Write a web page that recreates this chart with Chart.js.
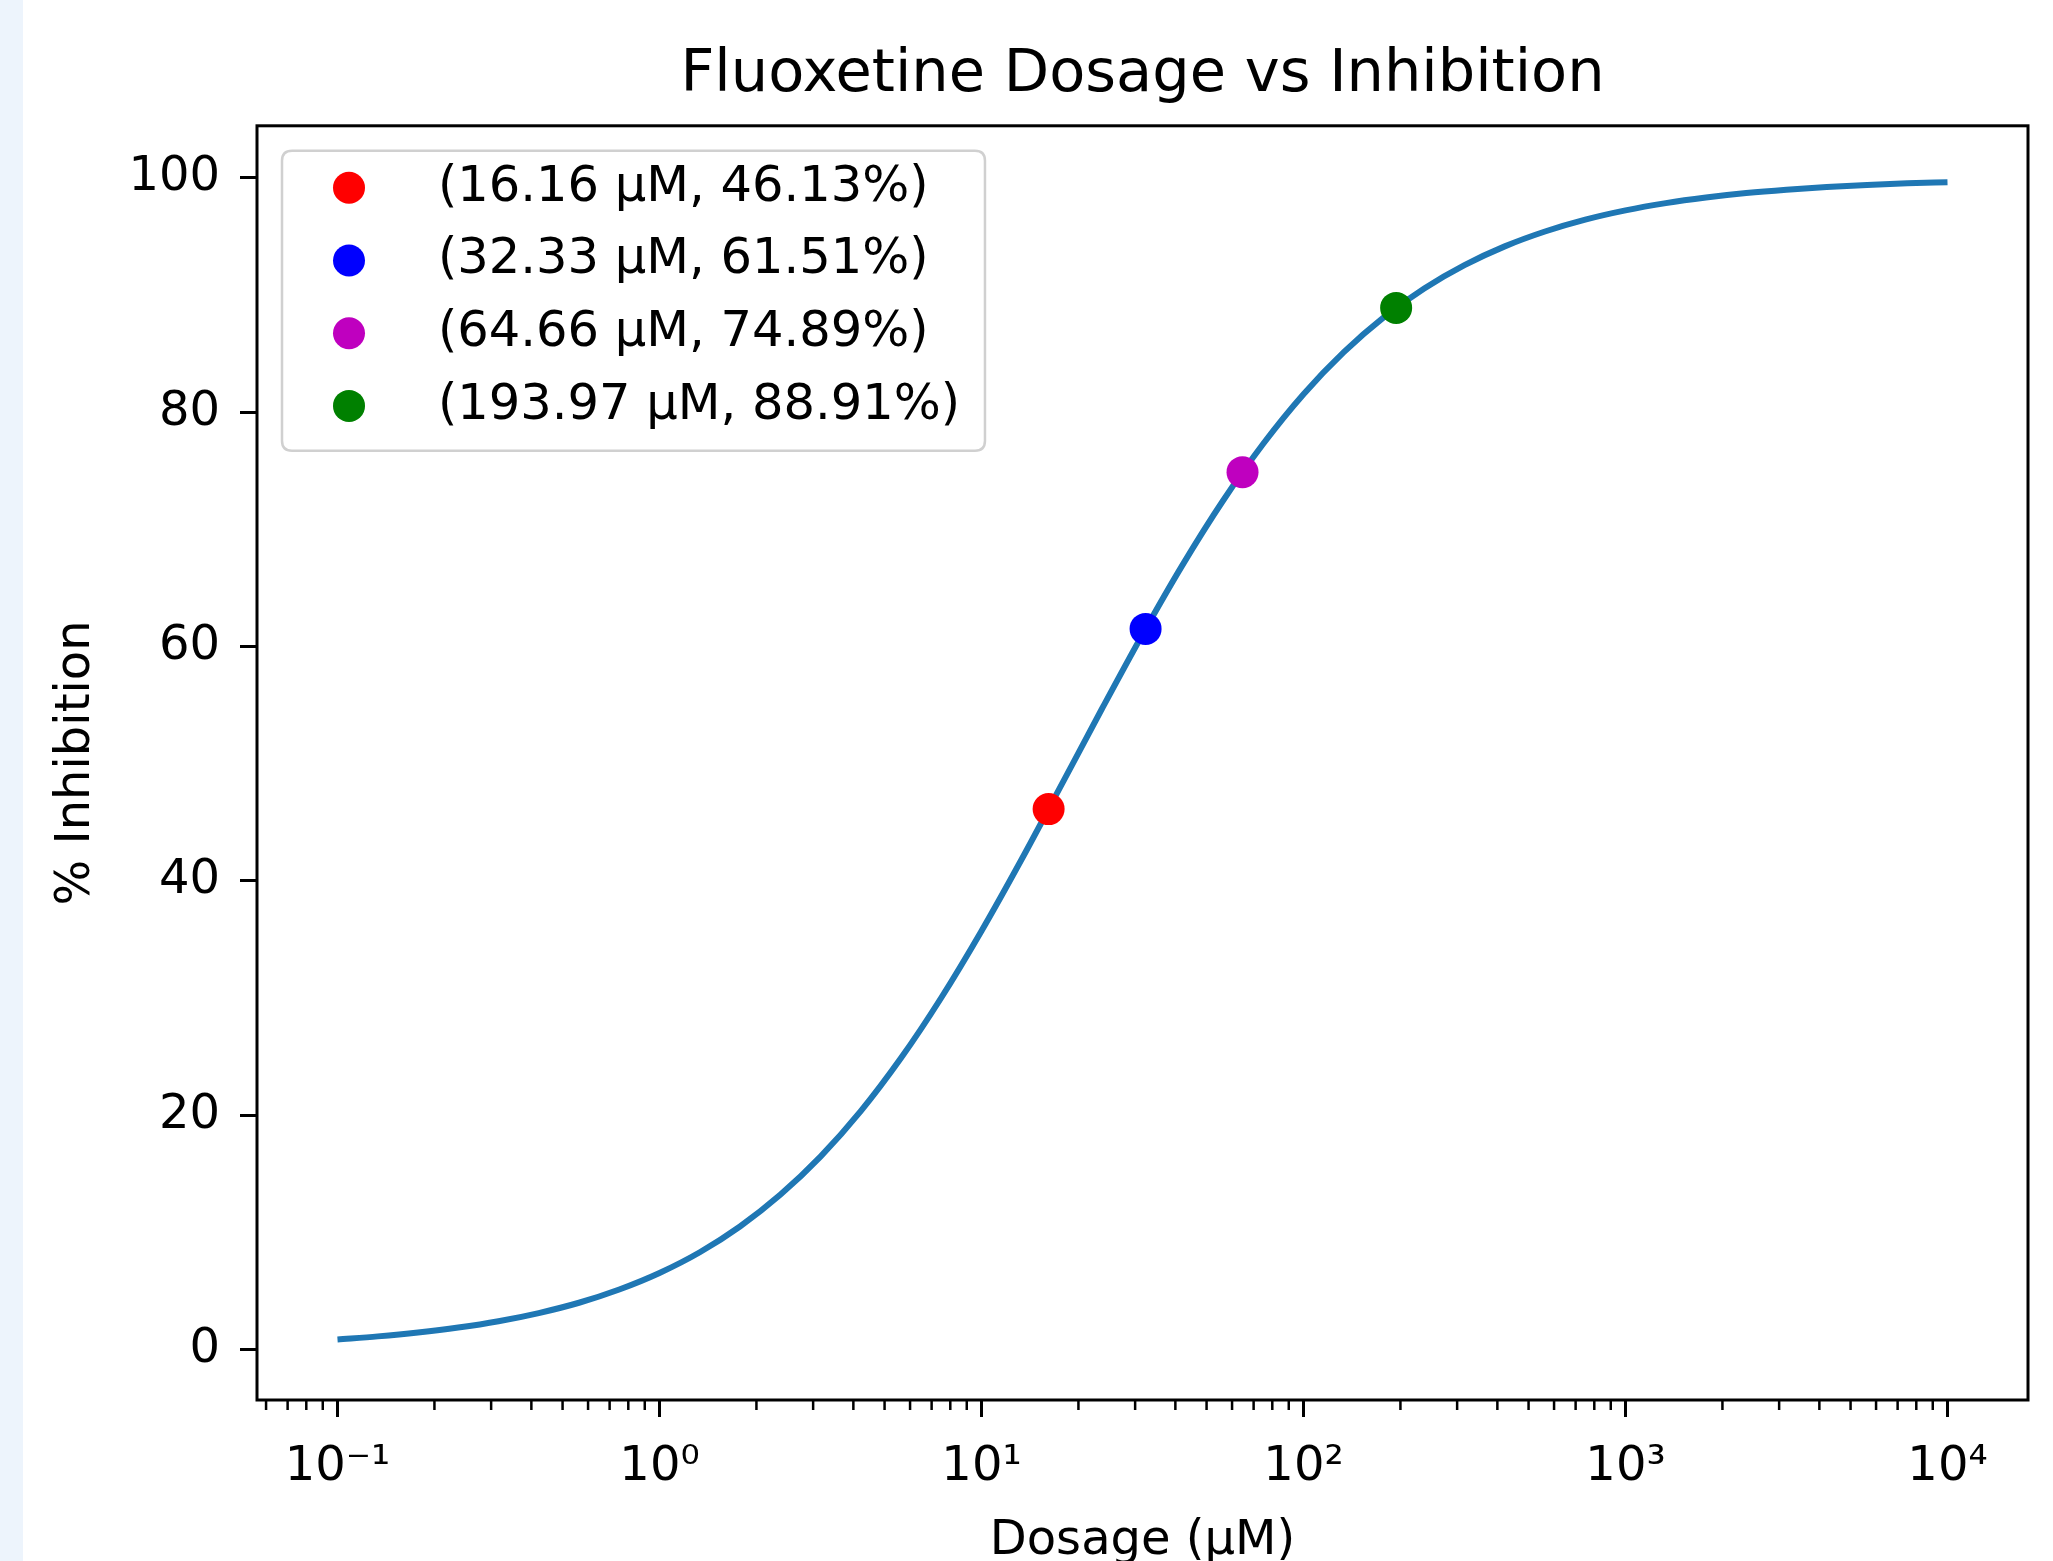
<!DOCTYPE html>
<html>
<head>
<meta charset="utf-8">
<script src="https://cdn.jsdelivr.net/npm/chart.js@4.4.1/dist/chart.umd.min.js"></script>
<style>
html,body{margin:0;padding:0;background:#fff;overflow:hidden;width:2053px;height:1561px;}
#strip{position:absolute;left:0;top:0;width:23px;height:1561px;background:#edf4fc;}
#wrap{position:absolute;left:0;top:0;width:2053px;height:1600px;}
canvas{display:block;}
</style>
</head>
<body>
<div id="strip"></div>
<div id="wrap"><canvas id="c" width="2053" height="1600" style="width:2053px;height:1600px"></canvas></div>
<script>
// ---- data ----
const curveDose = [0.1, 0.1334, 0.1778, 0.2371, 0.3162, 0.4217, 0.5623, 0.7499,
  1, 1.334, 1.778, 2.371, 3.162, 4.217, 5.623, 7.499,
  10, 13.34, 17.78, 23.71, 31.62, 42.17, 56.23, 74.99,
  100, 133.4, 177.8, 237.1, 316.2, 421.7, 562.3, 749.9,
  1000, 1334, 1778, 2371, 3162, 4217, 5623, 7499, 10000];
const curveInhibition = [0.87, 1.13, 1.46, 1.88, 2.42, 3.12, 4.0, 5.13,
  6.54, 8.31, 10.51, 13.21, 16.47, 20.35, 24.88, 30.03,
  35.73, 41.87, 48.28, 54.74, 61.04, 67.0, 72.45, 77.31,
  81.54, 85.13, 88.12, 90.57, 92.56, 94.16, 95.43, 96.44,
  97.23, 97.85, 98.33, 98.71, 99.0, 99.23, 99.4, 99.54, 99.64];
const pointDose = [16.16, 32.33, 64.66, 193.97];
const pointInhibition = [46.13, 61.51, 74.89, 88.91];
const xTickValues = [0.1, 1, 10, 100, 1000, 10000];
const xTickLabels = ['10⁻¹', '10⁰', '10¹', '10²', '10³', '10⁴'];
const yTickValues = [0, 20, 40, 60, 80, 100];
const yTickLabels = ['0', '20', '40', '60', '80', '100'];
const chartTitle = 'Fluoxetine Dosage vs Inhibition';
const xAxisTitle = 'Dosage (µM)';
const yAxisTitle = '% Inhibition';

// ---- styles ----
const pointColors = ['#ff0000', '#0000ff', '#bf00bf', '#008000'];
const lineColor = '#1f77b4';
const FONT = "'DejaVu Sans', 'Liberation Sans', sans-serif";
const X_MIN = Math.pow(10, -1.25), X_MAX = Math.pow(10, 4.25);
const Y_MIN = -4.3, Y_MAX = 104.45;

Chart.defaults.color = '#000';
Chart.defaults.font.family = FONT;

const pointDatasets = pointDose.map((d, i) => ({
  type: 'scatter',
  label: '(' + d.toFixed(2) + ' µM, ' + pointInhibition[i].toFixed(2) + '%)',
  data: [{x: d, y: pointInhibition[i]}],
  backgroundColor: pointColors[i],
  borderColor: pointColors[i],
  borderWidth: 0,
  pointRadius: 16,
  pointHoverRadius: 16
}));

const lineDataset = {
  type: 'line',
  label: 'curve',
  data: curveDose.map((d, i) => ({x: d, y: curveInhibition[i]})),
  borderColor: lineColor,
  backgroundColor: lineColor,
  borderWidth: 6,
  pointRadius: 0,
  pointHoverRadius: 0,
  fill: false,
  cubicInterpolationMode: 'monotone'
};

const decorPlugin = {
  id: 'decor',
  afterDatasetsDraw(chart) {
    const {ctx, chartArea: a} = chart;
    const xs = chart.scales.x;
    ctx.save();
    // minor log ticks
    ctx.strokeStyle = '#000';
    ctx.lineWidth = 2.5;
    for (let k = -2; k <= 4; k++) {
      for (let m = 2; m <= 9; m++) {
        const v = m * Math.pow(10, k);
        if (v < X_MIN || v > X_MAX) continue;
        const px = xs.getPixelForValue(v);
        ctx.beginPath();
        ctx.moveTo(px, a.bottom);
        ctx.lineTo(px, a.bottom + 10);
        ctx.stroke();
      }
    }
    // axes frame
    ctx.lineWidth = 3;
    ctx.strokeRect(a.left, a.top, a.right - a.left, a.bottom - a.top);
    ctx.restore();
  },
  afterDraw(chart) {
    const {ctx, chartArea: a} = chart;
    const sets = chart.data.datasets.filter(ds => ds.type === 'scatter');
    ctx.save();
    ctx.font = '49.5px ' + FONT;
    let maxW = 0;
    sets.forEach(ds => { maxW = Math.max(maxW, ctx.measureText(ds.label).width); });
    const fx = a.left + 25, fy = a.top + 25;
    const textOff = 156, markOff = 67;
    const fw = textOff + maxW + 25, fh = 300;
    const r = 10;
    ctx.beginPath();
    ctx.moveTo(fx + r, fy);
    ctx.lineTo(fx + fw - r, fy);
    ctx.quadraticCurveTo(fx + fw, fy, fx + fw, fy + r);
    ctx.lineTo(fx + fw, fy + fh - r);
    ctx.quadraticCurveTo(fx + fw, fy + fh, fx + fw - r, fy + fh);
    ctx.lineTo(fx + r, fy + fh);
    ctx.quadraticCurveTo(fx, fy + fh, fx, fy + fh - r);
    ctx.lineTo(fx, fy + r);
    ctx.quadraticCurveTo(fx, fy, fx + r, fy);
    ctx.closePath();
    ctx.fillStyle = 'rgba(255,255,255,0.8)';
    ctx.fill();
    ctx.strokeStyle = '#d0d0d0';
    ctx.lineWidth = 2.5;
    ctx.stroke();
    sets.forEach((ds, i) => {
      const cy = fy + 37 + i * 72.7;
      ctx.beginPath();
      ctx.arc(fx + markOff, cy, 16, 0, Math.PI * 2);
      ctx.fillStyle = ds.backgroundColor;
      ctx.fill();
      ctx.fillStyle = '#000';
      ctx.textAlign = 'left';
      ctx.textBaseline = 'middle';
      ctx.fillText(ds.label, fx + textOff, cy);
    });
    ctx.restore();
  }
};

new Chart(document.getElementById('c'), {
  data: { datasets: [...pointDatasets, lineDataset] },
  options: {
    responsive: false,
    animation: false,
    devicePixelRatio: 1,
    layout: { padding: { left: 0, right: 25, top: 0, bottom: 0 } },
    plugins: {
      legend: { display: false },
      tooltip: { enabled: false },
      title: {
        display: true,
        fullSize: false,
        text: chartTitle,
        color: '#000',
        font: { size: 59, weight: 'normal', family: FONT, lineHeight: 1.2 },
        padding: { top: 40, bottom: 15 }
      }
    },
    scales: {
      x: {
        type: 'logarithmic',
        position: 'bottom',
        min: X_MIN,
        max: X_MAX,
        afterBuildTicks(scale) { scale.ticks = xTickValues.map(v => ({value: v, major: true})); },
        afterFit(scale) { scale.height = 200; },
        ticks: {
          autoSkip: false,
          maxRotation: 0,
          minRotation: 0,
          padding: 22,
          color: '#000',
          font: { size: 48, family: FONT },
          callback(value) {
            const i = xTickValues.findIndex(t => Math.abs(t - value) <= t * 1e-9);
            return i >= 0 ? xTickLabels[i] : '';
          }
        },
        grid: { display: true, drawOnChartArea: false, drawTicks: true, tickLength: 17, tickWidth: 3, tickColor: '#000' },
        border: { display: false },
        title: {
          display: true,
          text: xAxisTitle,
          color: '#000',
          font: { size: 48, family: FONT, lineHeight: 1.2 },
          padding: { top: 0, bottom: 30 }
        }
      },
      y: {
        type: 'linear',
        position: 'left',
        min: Y_MIN,
        max: Y_MAX,
        afterBuildTicks(scale) { scale.ticks = yTickValues.map(v => ({value: v})); },
        afterFit(scale) { scale.width = 257; },
        ticks: {
          autoSkip: false,
          padding: 20,
          color: '#000',
          font: { size: 48, family: FONT },
          callback(value) {
            const i = yTickValues.indexOf(value);
            return i >= 0 ? yTickLabels[i] : '';
          }
        },
        grid: { display: true, drawOnChartArea: false, drawTicks: true, tickLength: 17, tickWidth: 3, tickColor: '#000' },
        border: { display: false },
        title: {
          display: true,
          text: yAxisTitle,
          color: '#000',
          font: { size: 48, family: FONT, lineHeight: 1.2 },
          padding: { top: 48, bottom: 0 }
        }
      }
    }
  },
  plugins: [decorPlugin]
});
</script>
</body>
</html>
